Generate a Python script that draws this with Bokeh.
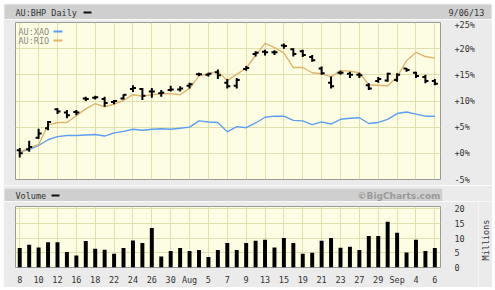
import math
from bokeh.plotting import figure
from bokeh.models import Range1d, FixedTicker, BoxAnnotation, Label, Grid, ColumnDataSource
from bokeh.layouts import column, row
from bokeh.embed import file_html
from bokeh.resources import INLINE

# ---------------- data ----------------
tick_labels = ["8", "10", "12", "16", "18", "22", "24", "26", "30", "Aug", "5", "7",
               "9", "13", "15", "19", "21", "23", "27", "29", "Sep", "4", "6"]

bhp_low = [-0.8, 0.3, 2.8, 4.4, 7.5, 6.7, 7.3, 10.0, 10.3, 8.9, 9.4, 10.3, 11.7, 10.2, 10.6,
           10.8, 11.8, 11.8, 12.4, 14.8, 14.7, 14.2, 12.4, 12.4, 15.8, 18.5, 18.7, 18.8, 20.0,
           18.5, 18.4, 17.5, 15.0, 12.4, 15.0, 14.4, 14.4, 12.1, 13.5, 13.7, 13.7, 15.6, 14.4,
           13.4, 13.0]
bhp_high = [1.0, 2.4, 4.7, 6.2, 8.6, 8.3, 8.3, 10.8, 11.0, 10.8, 10.2, 11.3, 13.0, 12.5, 12.5,
            12.1, 12.9, 12.8, 13.5, 15.4, 15.4, 16.0, 14.2, 14.4, 16.7, 19.5, 19.8, 19.7, 21.0,
            20.1, 19.8, 18.8, 16.6, 14.7, 15.8, 15.6, 15.4, 13.4, 14.6, 15.4, 15.3, 16.3, 15.6,
            15.0, 14.2]
bhp_open = [0.6, 0.8, 3.0, 4.8, 8.4, 7.8, 7.9, 10.5, 10.6, 10.4, 9.8, 10.5, 12.3, 12.3, 11.8,
            11.5, 12.1, 12.2, 12.9, 15.1, 15.0, 15.5, 13.5, 12.9, 16.1, 19.0, 19.4, 19.3, 20.6,
            19.9, 19.5, 18.4, 16.2, 13.5, 15.4, 15.2, 15.0, 13.0, 13.8, 13.9, 14.0, 16.2, 15.4,
            14.6, 13.8]
bhp_close = [0.0, 1.2, 3.8, 6.0, 8.0, 7.3, 7.8, 10.4, 10.7, 9.6, 10.0, 11.2, 12.5, 11.0, 11.8,
             11.6, 12.2, 12.4, 13.2, 15.1, 15.2, 14.9, 12.8, 14.0, 16.3, 19.2, 19.3, 19.3, 20.5,
             19.0, 18.8, 17.8, 15.3, 12.8, 15.4, 15.0, 14.9, 12.4, 14.2, 15.2, 15.0, 15.9, 14.8,
             13.8, 13.3]
xao = [0.3, 0.7, 1.5, 2.6, 3.2, 3.4, 3.4, 3.5, 3.6, 3.3, 3.9, 4.2, 4.6, 4.4, 4.6, 4.7, 4.6,
       4.8, 5.0, 6.2, 6.0, 5.9, 4.1, 5.1, 4.9, 5.8, 6.9, 7.1, 7.1, 6.3, 6.2, 5.5, 6.0, 5.6,
       6.5, 6.7, 6.8, 5.7, 5.9, 6.5, 7.6, 7.9, 7.5, 7.1, 7.1]
rio = [0.25, 1.0, 1.7, 5.4, 5.9, 5.9, 7.2, 8.5, 9.5, 8.9, 9.4, 10.1, 11.2, 10.9, 11.2, 11.4,
       11.4, 11.2, 12.4, 14.8, 15.2, 15.7, 13.9, 15.1, 16.3, 18.7, 21.0, 20.2, 19.2, 16.4,
       16.4, 15.4, 15.2, 14.6, 15.8, 15.7, 15.4, 13.1, 13.0, 12.9, 14.6, 17.7, 19.3, 18.5,
       18.2]
volume = [6.6, 7.7, 6.8, 8.6, 8.6, 5.3, 4.1, 9.0, 6.4, 6.0, 4.7, 6.6, 9.2, 8.3, 13.4, 3.75,
          5.6, 6.6, 5.6, 5.9, 3.6, 5.9, 8.3, 5.9, 8.3, 9.1, 9.4, 6.8, 10.0, 8.3, 4.7, 5.0,
          9.1, 10.0, 6.7, 7.0, 5.9, 10.7, 10.7, 15.5, 11.8, 5.1, 9.4, 5.6, 6.6]
pct_ticks = [-5, 0, 5, 10, 15, 20, 25]
vol_ticks = [0, 5, 10, 15, 20]

# ---------------- styling ----------------
W = 489
BG = "#ebebeb"
PLOT_BG = "#fdfde3"
GRID = "#e2dfae"
HEAD = "#cfcfcf"
MONO = "DejaVu Sans Mono"
FS = "8.5px"
BLUE = "#5c9ef0"
TAN = "#e2b36c"

n = len(volume)
xs = list(range(n))
x_range = Range1d(-0.45, 44.6)


def no_align(p):
    try:
        p.frame_align = False
    except Exception:
        pass


def box(p, l, r, t, b, color):
    p.add_layout(BoxAnnotation(left=l, right=r, top=t, bottom=b,
                               left_units="canvas", right_units="canvas",
                               top_units="canvas", bottom_units="canvas",
                               fill_color=color, fill_alpha=1, line_color=None, level="overlay"))


def label(p, x, y, text, color="#333333", font=MONO, size=FS, align="left", style="normal",
          angle=0.0):
    p.add_layout(Label(x=x, y=y, x_units="canvas", y_units="canvas", text=text,
                       text_color=color, text_font=font, text_font_size=size,
                       text_align=align, text_baseline="middle", text_font_style=style,
                       angle=angle))


def blank(width, height, left, right, top, bottom, fill):
    h = figure(width=width, height=height, x_range=Range1d(0, 1), y_range=Range1d(0, 1),
               toolbar_location=None, output_backend="svg", x_axis_location=None,
               y_axis_location=None, min_border_left=left, min_border_right=right,
               min_border_top=top, min_border_bottom=bottom)
    no_align(h)
    h.background_fill_color = fill
    h.border_fill_color = BG
    h.outline_line_color = None
    h.center = [r for r in h.center if not isinstance(r, Grid)]
    return h


def style_fig(p, ticks):
    no_align(p)
    p.background_fill_color = PLOT_BG
    p.border_fill_color = BG
    p.outline_line_color = "#9a9a9a"
    p.center = [r for r in p.center if not isinstance(r, Grid)]
    p.add_layout(Grid(dimension=0, ticker=FixedTicker(ticks=list(range(0, n, 2))),
                      grid_line_color=GRID))
    p.add_layout(Grid(dimension=1, ticker=FixedTicker(ticks=ticks), grid_line_color=GRID))
    ax = p.yaxis[0]
    ax.ticker = FixedTicker(ticks=ticks)
    ax.axis_line_color = None
    ax.major_tick_line_color = None
    ax.minor_tick_line_color = None
    ax.major_label_text_font = MONO
    ax.major_label_text_font_size = FS
    ax.major_label_text_color = "#333333"
    ax.major_label_standoff = 8


# ---------------- header of price panel ----------------
h1 = blank(W, 16, 1, 1, 1, 0, HEAD)
label(h1, 12, 9, "AU:BHP Daily")
box(h1, 80, 88, 8, 10, "#111111")
label(h1, 445, 9, "9/06/13")

# ---------------- price panel ----------------
p1 = figure(width=W, height=166, x_range=x_range, y_range=Range1d(-5, 25),
            toolbar_location=None, output_backend="svg", x_axis_location=None,
            y_axis_location="right", min_border_left=12, min_border_right=52,
            min_border_top=3, min_border_bottom=6)
style_fig(p1, pct_ticks)
p1.yaxis[0].major_label_overrides = {t: ("%+d%%" % t) for t in pct_ticks}

p1.line(xs, xao, line_color=BLUE, line_width=1.4)
p1.line(xs, rio, line_color=TAN, line_width=1.4)

src = ColumnDataSource(dict(x=xs, lo=bhp_low, hi=bhp_high, op=bhp_open, cl=bhp_close,
                            xl=[v - 0.32 for v in xs], xr=[v + 0.32 for v in xs]))
p1.segment(x0="x", y0="lo", x1="x", y1="hi", source=src, line_color="black", line_width=2)
p1.segment(x0="xl", y0="op", x1="x", y1="op", source=src, line_color="black", line_width=2)
p1.segment(x0="x", y0="cl", x1="xr", y1="cl", source=src, line_color="black", line_width=2)

label(p1, 15, 12, "AU:XAO", color="#8a8a8a")
box(p1, 50, 59, 11, 13, BLUE)
label(p1, 15, 21, "AU:RIO", color="#8a8a8a")
box(p1, 50, 59, 20, 22, TAN)

# ---------------- header of volume panel ----------------
h2 = blank(W, 16, 1, 50, 3, 0, HEAD)
label(h2, 12, 10, "Volume")
box(h2, 48, 56, 9, 11, "#111111")
label(h2, 437, 10, "\u00a9BigCharts.com", color="#9a9a9a", font="DejaVu Sans", size="9px",
      align="right", style="bold")

# ---------------- volume panel ----------------
p2 = figure(width=475, height=86, x_range=x_range, y_range=Range1d(0, 20.7),
            toolbar_location=None, output_backend="svg", y_axis_location="right",
            min_border_left=12, min_border_right=38, min_border_top=5, min_border_bottom=14)
style_fig(p2, vol_ticks)
p2.vbar(x=xs, top=volume, width=0.42, fill_color="black", line_color=None)

xa = p2.xaxis[0]
xa.ticker = FixedTicker(ticks=list(range(0, n, 2)))
xa.major_label_overrides = {i * 2: t for i, t in enumerate(tick_labels)}
xa.axis_line_color = None
xa.major_tick_line_color = None
xa.minor_tick_line_color = None
xa.major_label_text_font = MONO
xa.major_label_text_font_size = FS
xa.major_label_text_color = "#333333"
xa.major_label_standoff = 1

# unit caption of the volume axis, in a narrow strip at the right
mfig = blank(14, 86, 0, 0, 0, 0, BG)
label(mfig, 7, 38.5, "Millions", align="center", angle=math.pi / 2)

layout = column(h1, p1, h2, row(p2, mfig, spacing=0), spacing=0, margin=(3, 3, 3, 3))
open("out.html", "w").write(file_html(layout, INLINE))
